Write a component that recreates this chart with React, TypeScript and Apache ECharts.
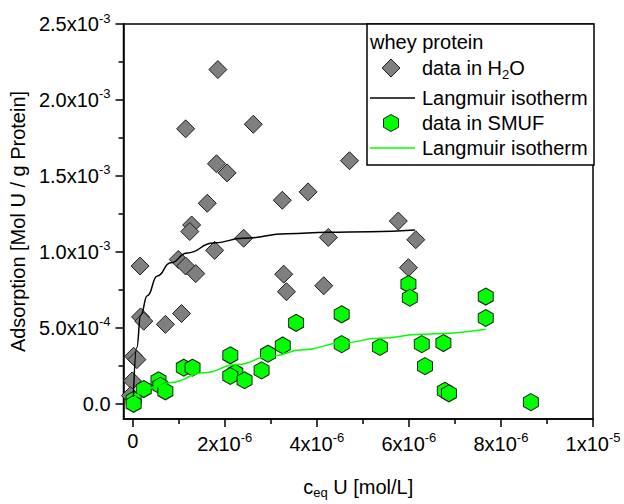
import React, { useEffect, useRef } from 'react';
import * as echarts from 'echarts';

const FONT = '"Liberation Sans", Arial, Helvetica, sans-serif';

// Concentrations in units of 1e-6 mol/L, adsorption in units of 1e-4 mol U / g protein.
const h2oConc = [1.85, 1.15, 2.62, 1.82, 2.05, 1.62, 3.25, 3.81, 4.71, 1.28, 1.24, 2.41, 4.25, 1.78, 0.16, 0.99, 1.15, 1.37, 3.28, 3.34, 4.15, 0.17, 0.24, 0.71, 1.06, 0.02, 0.09, -0.01, -0.05, 5.77, 6.15, 5.99];
const h2oAds = [22.0, 18.1, 18.4, 15.8, 15.2, 13.2, 13.4, 13.95, 16.0, 11.77, 11.34, 10.9, 10.95, 10.1, 9.07, 9.5, 9.07, 8.57, 8.53, 7.38, 7.77, 5.72, 5.44, 5.23, 5.94, 3.13, 2.91, 1.51, 0.54, 12.03, 10.8, 8.96];

const smufConc = [5.99, 6.02, 7.67, 7.67, 4.54, 3.55, 4.54, 5.37, 6.28, 6.75, 6.35, 6.78, 6.87, 8.65, 3.26, 2.94, 2.12, 2.8, 2.23, 2.12, 2.43, 1.11, 1.3, 0.56, 0.6, 0.71, 0.24, 0.02, 0.02];
const smufAds = [7.88, 6.98, 7.06, 5.65, 5.89, 5.33, 3.93, 3.74, 3.93, 4.0, 2.48, 0.86, 0.69, 0.11, 3.84, 3.3, 3.19, 2.2, 2.05, 1.83, 1.55, 2.38, 2.38, 1.55, 1.19, 0.82, 0.97, 0.26, 0.0];

const h2oFitConc = [0.015, 0.087, 0.173, 0.318, 0.535, 0.823, 1.185, 1.755, 2.405, 3.35, 4.247, 5.157, 6.13];
const h2oFitAds = [0.45, 3.69, 5.83, 7.12, 8.42, 9.28, 9.93, 10.58, 10.9, 11.19, 11.29, 11.33, 11.44];

const smufFitConc = [0.03, 0.46, 0.82, 1.545, 2.27, 2.99, 3.71, 4.54, 5.37, 6.28, 7.67];
const smufFitAds = [0.39, 1.08, 1.41, 2.05, 2.59, 3.13, 3.56, 4.0, 4.32, 4.58, 4.9];

const xTickValues = [0, 2, 4, 6, 8, 10];
const xTickMantissa = ['0', '2x10', '4x10', '6x10', '8x10', '1x10'];
const xTickExponent = ['', '-6', '-6', '-6', '-6', '-5'];
const xMinorTicks = [1, 3, 5, 7, 9];

const yTickValues = [0, 5, 10, 15, 20, 25];
const yTickMantissa = ['0.0', '5.0x10', '1.0x10', '1.5x10', '2.0x10', '2.5x10'];
const yTickExponent = ['', '-4', '-3', '-3', '-3', '-3'];
const yMinorTicks = [2.5, 7.5, 12.5, 17.5, 22.5];

const HEX = 'path://M0,-10 L8.66,-5 L8.66,5 L0,10 L-8.66,5 L-8.66,-5 Z';
const GRAY = '#7f7f7f';
const GREEN = '#00ff00';

const pairs = (xs: number[], ys: number[]) => xs.map((x, i) => [x, ys[i]]);

const tickRich = {
  m: { fontSize: 20, fontFamily: FONT, color: '#000' },
  s: { fontSize: 13, fontFamily: FONT, color: '#000', padding: [0, 0, 12, 0] },
};

const labelFor = (values: number[], mant: string[], exp: string[]) => (v: number) => {
  const i = values.findIndex((t) => Math.abs(t - v) < 1e-9);
  if (i < 0) return '';
  return exp[i] ? `{m|${mant[i]}}{s|${exp[i]}}` : `{m|${mant[i]}}`;
};

export default function App() {
  const ref = useRef<HTMLDivElement>(null);

  useEffect(() => {
    if (!ref.current) return;
    const chart = echarts.init(ref.current, null, { renderer: 'svg' });

    const xBase = { type: 'value', min: -0.2, max: 10, gridIndex: 0 };
    const yBase = { type: 'value', min: -1, max: 25, gridIndex: 0 };

    const legendX = 367;
    const legendTextX = 422;

    chart.setOption({
      animation: false,
      backgroundColor: '#fff',
      grid: {
        left: 123,
        right: 31,
        top: 24,
        bottom: 79,
        show: true,
        borderColor: '#000',
        borderWidth: 1.5,
        backgroundColor: 'transparent',
      },
      xAxis: [
        {
          ...xBase,
          position: 'bottom',
          name: '{n|c}{sub|eq}{n| U [mol/L]}',
          nameLocation: 'middle',
          nameGap: 55,
          nameTextStyle: {
            rich: {
              n: { fontSize: 20, fontFamily: FONT, color: '#000' },
              sub: { fontSize: 13, fontFamily: FONT, color: '#000', padding: [12, 0, 0, 0] },
            },
          },
          axisLine: { show: true, onZero: false, lineStyle: { color: '#000', width: 1.5 } },
          axisTick: { show: true, length: 8, customValues: xTickValues, lineStyle: { color: '#000', width: 1.5 } },
          axisLabel: {
            show: true,
            margin: 12,
            customValues: xTickValues,
            formatter: labelFor(xTickValues, xTickMantissa, xTickExponent),
            rich: tickRich,
          },
          splitLine: { show: false },
        },
        {
          ...xBase,
          position: 'bottom',
          axisLine: { show: false, onZero: false },
          axisTick: { show: true, length: 5, customValues: xMinorTicks, lineStyle: { color: '#000', width: 1.5 } },
          axisLabel: { show: false },
          splitLine: { show: false },
        },
      ],
      yAxis: [
        {
          ...yBase,
          position: 'left',
          name: 'Adsorption [Mol U / g Protein]',
          nameLocation: 'middle',
          nameGap: 86,
          nameTextStyle: { fontSize: 20, fontFamily: FONT, color: '#000' },
          axisLine: { show: true, onZero: false, lineStyle: { color: '#000', width: 1.5 } },
          axisTick: { show: true, length: 8, customValues: yTickValues, lineStyle: { color: '#000', width: 1.5 } },
          axisLabel: {
            show: true,
            margin: 13,
            customValues: yTickValues,
            formatter: labelFor(yTickValues, yTickMantissa, yTickExponent),
            rich: tickRich,
          },
          splitLine: { show: false },
        },
        {
          ...yBase,
          position: 'left',
          axisLine: { show: false, onZero: false },
          axisTick: { show: true, length: 5, customValues: yMinorTicks, lineStyle: { color: '#000', width: 1.5 } },
          axisLabel: { show: false },
          splitLine: { show: false },
        },
      ],
      series: [
        {
          name: 'data in H2O',
          type: 'scatter',
          xAxisIndex: 0,
          yAxisIndex: 0,
          symbol: 'diamond',
          symbolSize: [18, 18],
          itemStyle: { color: GRAY, borderColor: '#1e1e1e', borderWidth: 1, opacity: 1 },
          data: pairs(h2oConc, h2oAds),
        },
        {
          name: 'Langmuir isotherm (H2O)',
          type: 'line',
          xAxisIndex: 0,
          yAxisIndex: 0,
          smooth: 0.5,
          smoothMonotone: 'x',
          showSymbol: false,
          lineStyle: { color: '#000', width: 1.5 },
          data: pairs(h2oFitConc, h2oFitAds),
        },
        {
          name: 'Langmuir isotherm (SMUF)',
          type: 'line',
          xAxisIndex: 0,
          yAxisIndex: 0,
          smooth: 0.5,
          smoothMonotone: 'x',
          showSymbol: false,
          lineStyle: { color: GREEN, width: 1.5 },
          data: pairs(smufFitConc, smufFitAds),
        },
        {
          name: 'data in SMUF',
          type: 'scatter',
          xAxisIndex: 0,
          yAxisIndex: 0,
          symbol: HEX,
          symbolSize: [15, 17],
          itemStyle: { color: GREEN, borderColor: '#1e1e1e', borderWidth: 1, opacity: 1 },
          data: pairs(smufConc, smufAds),
        },
      ],
      graphic: [
        {
          type: 'group',
          z: 100,
          children: [
            {
              type: 'rect',
              shape: { x: legendX, y: 24, width: 227, height: 141 },
              style: { fill: '#fff', stroke: '#000', lineWidth: 1.5 },
            },
            {
              type: 'text',
              style: { x: 370, y: 42, text: 'whey protein', font: `20px ${FONT}`, fill: '#000', verticalAlign: 'middle' },
            },
            {
              type: 'polygon',
              shape: { points: [[391, 59], [400, 68], [391, 77], [382, 68]] },
              style: { fill: GRAY, stroke: '#1e1e1e', lineWidth: 1 },
            },
            {
              type: 'text',
              style: {
                x: legendTextX,
                y: 68,
                text: '{n|data in H}{b|2}{n|O}',
                verticalAlign: 'middle',
                rich: {
                  n: { fontSize: 20, fontFamily: FONT, fill: '#000' },
                  b: { fontSize: 13, fontFamily: FONT, fill: '#000', padding: [12, 0, 0, 0] },
                },
              },
            },
            {
              type: 'line',
              shape: { x1: 370, y1: 98, x2: 415, y2: 98 },
              style: { stroke: '#000', lineWidth: 1.5 },
            },
            {
              type: 'text',
              style: { x: legendTextX, y: 98, text: 'Langmuir isotherm', font: `20px ${FONT}`, fill: '#000', verticalAlign: 'middle' },
            },
            {
              type: 'polygon',
              shape: { points: [[391, 114.5], [398.5, 118.75], [398.5, 127.25], [391, 131.5], [383.5, 127.25], [383.5, 118.75]] },
              style: { fill: GREEN, stroke: '#1e1e1e', lineWidth: 1 },
            },
            {
              type: 'text',
              style: { x: legendTextX, y: 123, text: 'data in SMUF', font: `20px ${FONT}`, fill: '#000', verticalAlign: 'middle' },
            },
            {
              type: 'line',
              shape: { x1: 370, y1: 148, x2: 415, y2: 148 },
              style: { stroke: GREEN, lineWidth: 1.5 },
            },
            {
              type: 'text',
              style: { x: legendTextX, y: 148, text: 'Langmuir isotherm', font: `20px ${FONT}`, fill: '#000', verticalAlign: 'middle' },
            },
          ],
        },
      ],
    });

    return () => chart.dispose();
  }, []);

  return <div ref={ref} style={{ position: 'fixed', left: 0, top: 0, width: 624, height: 504 }} />;
}
